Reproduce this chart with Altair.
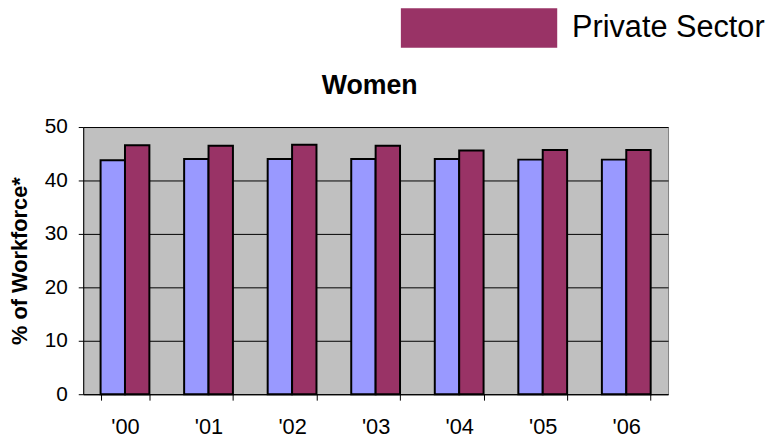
import altair as alt
import pandas as pd

years = ["'00", "'01", "'02", "'03", "'04", "'05", "'06"]
public_sector = [43.8, 44.0, 44.0, 44.0, 44.0, 43.9, 43.9]
private_sector = [46.6, 46.5, 46.7, 46.5, 45.6, 45.7, 45.7]
series = ["Public Sector", "Private Sector"]
colors = ["#9999FF", "#993366"]
y_ticks = [0, 10, 20, 30, 40, 50]
legend_shown = ["Private Sector"]

rows = []
for i, yr in enumerate(years):
    rows.append({"year": yr, "series": series[0], "value": public_sector[i]})
    rows.append({"year": yr, "series": series[1], "value": private_sector[i]})
df = pd.DataFrame(rows)

font = "Liberation Sans"
rect_path = "M-1,-0.253L1,-0.253L1,0.253L-1,0.253Z"

chart = alt.Chart(df).mark_bar(stroke="black", strokeWidth=2).encode(
    x=alt.X(
        "year:N", sort=years,
        scale=alt.Scale(paddingInner=0.416, paddingOuter=0.208),
        axis=alt.Axis(
            title=None, labelAngle=0, tickBand="extent", tickSize=6,
            tickColor="black", domainColor="black", labelFont=font,
            labelFontSize=22, labelColor="black", labelPadding=17,
        ),
    ),
    xOffset=alt.XOffset("series:N", sort=series,
                        scale=alt.Scale(paddingInner=0, paddingOuter=0)),
    y=alt.Y(
        "value:Q", scale=alt.Scale(domain=[0, 50]),
        axis=alt.Axis(
            values=y_ticks, title="% of Workforce*", grid=True,
            gridColor="black", gridOpacity=1, gridWidth=1,
            tickSize=5, tickColor="black", domainColor="black",
            labelFont=font, labelFontSize=21, labelColor="black",
            labelPadding=11, titleFont=font, titleFontSize=22,
            titleFontWeight="bold", titleColor="black", titlePadding=13,
        ),
    ),
    color=alt.Color(
        "series:N", sort=series,
        scale=alt.Scale(domain=series, range=colors),
        legend=alt.Legend(
            values=legend_shown, orient="none", legendX=321, legendY=-179,
            title=None, symbolType=rect_path, symbolSize=24964,
            symbolStrokeWidth=0, symbolOpacity=1, labelFont=font,
            labelFontSize=31, labelColor="black", labelOffset=15,
            labelLimit=0,
        ),
    ),
).properties(
    width=591,
    height=270,
    title=alt.Title("Women", fontSize=27, font=font, fontWeight="bold",
                    color="black", offset=31, dx=-6, dy=183),
    background="white",
    padding={"left": 76, "top": 118, "right": 101, "bottom": 45},
    autosize=alt.AutoSizeParams(type="none"),
).configure_view(fill="#C0C0C0", stroke="#808080", strokeWidth=1)

chart.save("out.html", embed_options={"renderer": "svg", "actions": False})
